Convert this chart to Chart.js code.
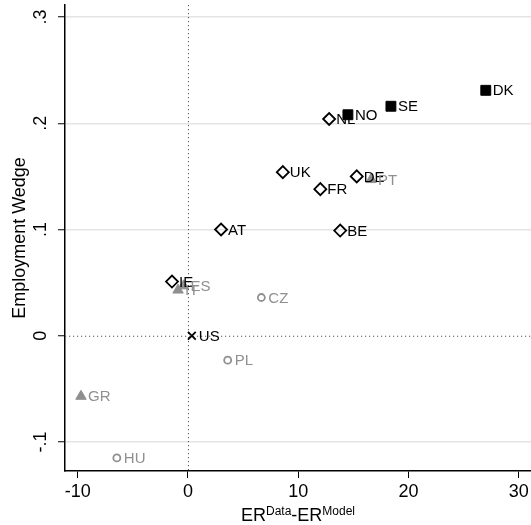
<!DOCTYPE html>
<html>
<head>
<meta charset="utf-8">
<script src="https://cdn.jsdelivr.net/npm/chart.js@4"></script>
<style>
  body { margin: 0; background: #fff; }
  canvas { display: block; }
</style>
</head>
<body>
<canvas id="myChart" width="531" height="525"></canvas>
<script>
// country codes, gap between data and model employment rate, employment wedge
const countries = ['DK', 'SE', 'NO', 'NL', 'DE', 'FR', 'UK', 'AT', 'BE', 'IE', 'PT', 'IT', 'ES', 'GR', 'CZ', 'PL', 'HU', 'US'];
const erGap = [27.0, 18.4, 14.5, 12.8, 15.3, 12.0, 8.6, 3.0, 13.8, -1.45, 16.6, -0.9, -0.4, -9.7, 6.65, 3.6, -6.45, 0.35];
const wedge = [0.231, 0.216, 0.208, 0.204, 0.150, 0.138, 0.154, 0.100, 0.099, 0.051, 0.147, 0.043, 0.047, -0.057, 0.036, -0.023, -0.115, 0.0];
const group = ['nordic', 'nordic', 'nordic', 'cont', 'cont', 'cont', 'cont', 'cont', 'cont', 'cont',
               'south', 'south', 'south', 'south', 'east', 'east', 'east', 'us'];

const xTicks = [-10, 0, 10, 20, 30];
const xTickLabels = ['-10', '0', '10', '20', '30'];
const yTicks = [-0.1, 0, 0.1, 0.2, 0.3];
const yTickLabels = ['-.1', '0', '.1', '.2', '.3'];

const GREY = '#8f8f8f';
const FONT = '"Liberation Sans", Arial, sans-serif';

const styles = {
    nordic: { pointStyle: 'rect', radius: 7, bg: '#000', border: '#000', width: 1, text: '#000' },
    cont:   { pointStyle: 'rectRot', radius: 6, bg: 'transparent', border: '#000', width: 1.8, text: '#000' },
    south:  { pointStyle: 'triangle', radius: 6, bg: GREY, border: GREY, width: 1, text: GREY },
    east:   { pointStyle: 'circle', radius: 3.5, bg: 'transparent', border: GREY, width: 1.8, text: GREY },
    us:     { pointStyle: 'crossRot', radius: 5.5, bg: '#000', border: '#000', width: 1.8, text: '#000' }
};

const datasets = Object.keys(styles).map(key => {
    const s = styles[key];
    const idx = countries.map((c, i) => i).filter(i => group[i] === key);
    return {
        label: key,
        data: idx.map(i => ({ x: erGap[i], y: wedge[i], name: countries[i] })),
        pointStyle: s.pointStyle,
        pointRadius: s.radius,
        pointBackgroundColor: s.bg,
        pointBorderColor: s.border,
        pointBorderWidth: s.width,
        textColor: s.text
    };
});

// dotted zero lines, point labels, tick labels and the axis titles
const extras = {
    id: 'extras',
    beforeDatasetsDraw(chart) {
        const { ctx, chartArea, scales } = chart;
        const x0 = scales.x.getPixelForValue(0);
        const y0 = scales.y.getPixelForValue(0);
        ctx.save();
        ctx.strokeStyle = '#555';
        ctx.lineWidth = 1;
        ctx.setLineDash([1.2, 2.8]);
        ctx.beginPath();
        ctx.moveTo(x0 + 0.5, chartArea.top);
        ctx.lineTo(x0 + 0.5, chartArea.bottom);
        ctx.moveTo(chartArea.left, y0 + 0.5);
        ctx.lineTo(chartArea.right, y0 + 0.5);
        ctx.stroke();
        ctx.restore();
    },
    afterDatasetsDraw(chart) {
        const ctx = chart.ctx;
        ctx.save();
        ctx.font = '15px ' + FONT;
        ctx.textAlign = 'left';
        ctx.textBaseline = 'middle';
        chart.data.datasets.forEach((ds, d) => {
            const meta = chart.getDatasetMeta(d);
            ctx.fillStyle = ds.textColor;
            meta.data.forEach((pt, i) => {
                ctx.fillText(ds.data[i].name, pt.x + 7, pt.y + 1);
            });
        });
        ctx.restore();
    },
    afterDraw(chart) {
        const { ctx, chartArea, scales } = chart;
        ctx.save();
        ctx.fillStyle = '#000';
        ctx.font = '18px ' + FONT;
        ctx.textAlign = 'center';
        // x tick labels
        ctx.textBaseline = 'alphabetic';
        xTicks.forEach((v, i) => {
            ctx.fillText(xTickLabels[i], scales.x.getPixelForValue(v), 497);
        });
        // y tick labels, rotated like the original
        ctx.textBaseline = 'middle';
        yTicks.forEach((v, i) => {
            ctx.save();
            ctx.translate(41, scales.y.getPixelForValue(v));
            ctx.rotate(-Math.PI / 2);
            ctx.fillText(yTickLabels[i], 0, 0);
            ctx.restore();
        });
        // y title
        ctx.save();
        ctx.translate(20, (chartArea.top + chartArea.bottom) / 2);
        ctx.rotate(-Math.PI / 2);
        ctx.fillText('Employment Wedge', 0, 0);
        ctx.restore();
        // x title with superscripts
        const parts = [['ER', 18, 0], ['Data', 12, -6], ['-ER', 18, 0], ['Model', 12, -6]];
        let total = 0;
        parts.forEach(p => { ctx.font = p[1] + 'px ' + FONT; total += ctx.measureText(p[0]).width; });
        let x = (chartArea.left + chartArea.right) / 2 - total / 2;
        ctx.textAlign = 'left';
        ctx.textBaseline = 'alphabetic';
        parts.forEach(p => {
            ctx.font = p[1] + 'px ' + FONT;
            ctx.fillText(p[0], x, 521 + p[2]);
            x += ctx.measureText(p[0]).width;
        });
        ctx.restore();
    }
};

const ctx = document.getElementById('myChart');
new Chart(ctx, {
    type: 'scatter',
    data: { datasets: datasets },
    plugins: [extras],
    options: {
        responsive: false,
        animation: false,
        layout: { autoPadding: false, padding: { top: 5, right: 0, left: 0, bottom: 0 } },
        plugins: {
            legend: { display: false },
            tooltip: { enabled: false }
        },
        scales: {
            x: {
                type: 'linear',
                min: -11.15,
                max: 31.1,
                afterFit: (scale) => { scale.height = 54; },
                afterBuildTicks: (scale) => { scale.ticks = xTicks.map(v => ({ value: v })); },
                ticks: { display: false },
                grid: {
                    drawOnChartArea: false,
                    tickLength: 7,
                    tickColor: '#000',
                    tickWidth: 1
                },
                border: { color: '#000', width: 1.5 }
            },
            y: {
                type: 'linear',
                min: -0.1273,
                max: 0.3113,
                afterFit: (scale) => { scale.width = 65; },
                afterBuildTicks: (scale) => { scale.ticks = yTicks.map(v => ({ value: v })); },
                ticks: { display: false },
                grid: {
                    color: (c) => (c.tick && c.tick.value === 0) ? 'transparent' : '#e4e4e4',
                    lineWidth: 1.5,
                    tickLength: 7,
                    tickColor: '#000',
                    tickWidth: 1
                },
                border: { color: '#000', width: 1.5 }
            }
        }
    }
});
</script>
</body>
</html>
